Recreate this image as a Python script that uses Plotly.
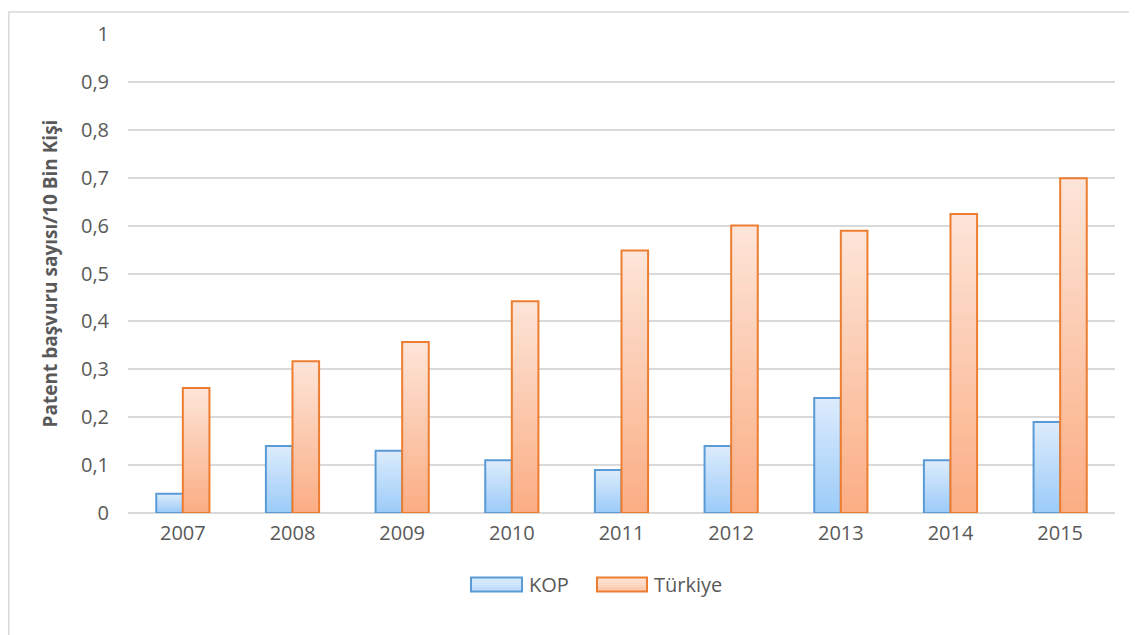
import plotly.graph_objects as go

years = ["2007", "2008", "2009", "2010", "2011", "2012", "2013", "2014", "2015"]
kop = [0.04, 0.14, 0.13, 0.11, 0.09, 0.14, 0.24, 0.11, 0.19]
turkiye = [0.261, 0.317, 0.357, 0.442, 0.548, 0.600, 0.589, 0.624, 0.699]
y_ticks = [0, 0.1, 0.2, 0.3, 0.4, 0.5, 0.6, 0.7, 0.8, 0.9, 1]

series = [
    ("KOP", kop, (221, 236, 252), (155, 203, 249), "#5B9BD5"),
    ("Türkiye", turkiye, (253, 229, 217), (251, 173, 131), "#ED7D31"),
]

# page body has ~8px margin; compensate
OFF = 8
W, H = 1137 - OFF, 635 - OFF
L, R, T, B = 120, 22, 23, 122
pw, ph = W - L - R, H - T - B


def px(sx):
    return (sx - OFF - L) / pw


def py(sy):
    return (H - B - (sy - OFF)) / ph


def rgb(c):
    return "rgb(%d,%d,%d)" % c


fig = go.Figure()
N = 30
for gi, (name, vals, top_c, bot_c, line_c) in enumerate(series):
    og = str(gi)
    for k in range(N, 0, -1):
        f = k / N
        t = (k - 0.5) / N
        c = tuple(round(bot_c[i] + (top_c[i] - bot_c[i]) * t) for i in range(3))
        fig.add_trace(go.Bar(x=years, y=[v * f for v in vals], offsetgroup=og,
                             marker=dict(color=rgb(c), line=dict(width=0)),
                             showlegend=False, hoverinfo="skip"))
    fig.add_trace(go.Bar(x=years, y=vals, offsetgroup=og, name=name,
                         marker=dict(color="rgba(0,0,0,0)", line=dict(color=line_c, width=2)),
                         showlegend=False))

# custom legend (wide swatches like the original)
shapes = []
annotations = []
legend_pos = [(471, 522, 527), (597, 647, 652)]
sy0, sy1 = 578, 592
for (name, vals, top_c, bot_c, line_c), (x0, x1, tx) in zip(series, legend_pos):
    nb = 6
    for b in range(nb):
        t = 1 - (b + 0.5) / nb
        c = tuple(round(bot_c[i] + (top_c[i] - bot_c[i]) * (0.35 + 0.65 * t)) for i in range(3))
        ya = sy0 + (sy1 - sy0) * b / nb
        yb = sy0 + (sy1 - sy0) * (b + 1) / nb
        shapes.append(dict(type="rect", xref="paper", yref="paper",
                           x0=px(x0), x1=px(x1), y0=py(yb), y1=py(ya),
                           line=dict(width=0), fillcolor=rgb(c)))
    shapes.append(dict(type="rect", xref="paper", yref="paper",
                       x0=px(x0), x1=px(x1), y0=py(sy1), y1=py(sy0),
                       line=dict(color=line_c, width=2), fillcolor="rgba(0,0,0,0)"))
    annotations.append(dict(text=name, xref="paper", yref="paper", x=px(tx), y=py((sy0 + sy1) / 2),
                            xanchor="left", yanchor="middle", showarrow=False,
                            font=dict(size=20, color="#595959")))

shapes.append(dict(type="rect", xref="paper", yref="paper",
                   x0=(0.75 - L) / pw, x1=(W + 20 - L) / pw,
                   y0=(H - B - (H + 20)) / ph, y1=(H - B - 0.75) / ph,
                   line=dict(color="#D9D9D9", width=1.5), fillcolor="rgba(0,0,0,0)", layer="below"))

fig.update_layout(
    width=W, height=H,
    margin=dict(l=L, r=R, t=T, b=B),
    barmode="group", bargap=0.515, bargroupgap=0,
    paper_bgcolor="white", plot_bgcolor="white",
    separators=", ",
    showlegend=False,
    font=dict(family="Open Sans, Liberation Sans, sans-serif", color="#595959", size=20),
    xaxis=dict(showgrid=False, showline=False, ticks="", ticklabelstandoff=6,
               tickfont=dict(size=20, color="#595959")),
    yaxis=dict(range=[0, 1], tickvals=y_ticks, showgrid=True, gridcolor="#D9D9D9", gridwidth=1.5,
               zeroline=True, zerolinecolor="#D9D9D9", zerolinewidth=1.5,
               showline=False, ticks="", ticklabelstandoff=18,
               tickfont=dict(size=20, color="#595959"),
               title=dict(text="<b>Patent başvuru sayısı/10 Bin Kişi</b>", standoff=18,
                          font=dict(size=19, color="#595959"))),
    shapes=shapes,
    annotations=annotations,
)

fig.write_html("out.html")
